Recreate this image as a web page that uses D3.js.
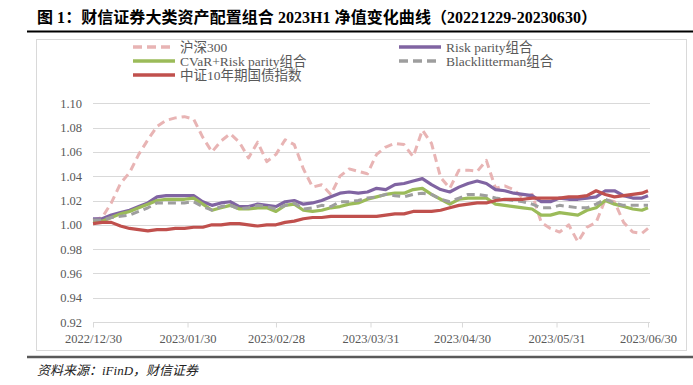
<!DOCTYPE html>
<html><head><meta charset="utf-8">
<script src="https://cdn.jsdelivr.net/npm/d3@7"></script>
<style>
html,body{margin:0;padding:0;background:#fff;}
svg{display:block;}
</style></head>
<body>
<svg id="c" width="693" height="385"></svg>
<script>
const dates = ["2022-12-30","2023-01-02","2023-01-05","2023-01-08","2023-01-11","2023-01-14","2023-01-17","2023-01-20","2023-01-23","2023-01-26","2023-01-29","2023-02-01","2023-02-04","2023-02-07","2023-02-10","2023-02-13","2023-02-16","2023-02-19","2023-02-22","2023-02-25","2023-02-28","2023-03-03","2023-03-06","2023-03-09","2023-03-12","2023-03-15","2023-03-18","2023-03-21","2023-03-24","2023-03-27","2023-03-30","2023-04-02","2023-04-05","2023-04-08","2023-04-11","2023-04-14","2023-04-17","2023-04-20","2023-04-23","2023-04-26","2023-04-29","2023-05-02","2023-05-05","2023-05-08","2023-05-11","2023-05-14","2023-05-17","2023-05-20","2023-05-23","2023-05-26","2023-05-29","2023-06-01","2023-06-04","2023-06-07","2023-06-10","2023-06-13","2023-06-16","2023-06-19","2023-06-22","2023-06-25","2023-06-28","2023-06-30"];

const hs300 = [1.004,1.006,1.018,1.034,1.043,1.058,1.070,1.081,1.086,1.088,1.089,1.087,1.072,1.060,1.069,1.075,1.068,1.055,1.068,1.052,1.058,1.070,1.066,1.046,1.031,1.033,1.025,1.040,1.046,1.044,1.042,1.058,1.064,1.067,1.066,1.056,1.078,1.067,1.039,1.030,1.045,1.045,1.044,1.053,1.030,1.032,1.029,1.022,1.025,1.002,0.997,0.994,1.000,0.986,0.998,1.002,1.021,1.019,1.002,0.994,0.993,0.997];

const riskParity = [1.005,1.005,1.008,1.010,1.012,1.015,1.018,1.023,1.024,1.024,1.024,1.024,1.019,1.016,1.018,1.019,1.015,1.015,1.017,1.016,1.015,1.019,1.020,1.017,1.018,1.020,1.023,1.026,1.027,1.026,1.027,1.030,1.029,1.033,1.034,1.036,1.038,1.033,1.029,1.027,1.031,1.034,1.036,1.034,1.029,1.028,1.026,1.025,1.024,1.019,1.019,1.022,1.021,1.021,1.022,1.023,1.028,1.028,1.024,1.022,1.022,1.024];

const cvarRiskParity = [1.003,1.003,1.006,1.009,1.011,1.014,1.017,1.020,1.021,1.021,1.021,1.022,1.017,1.012,1.014,1.016,1.013,1.013,1.014,1.014,1.011,1.016,1.017,1.012,1.011,1.012,1.014,1.015,1.017,1.018,1.021,1.023,1.025,1.026,1.026,1.029,1.030,1.025,1.021,1.017,1.021,1.022,1.022,1.022,1.017,1.016,1.015,1.014,1.013,1.008,1.008,1.010,1.009,1.008,1.012,1.014,1.020,1.017,1.015,1.013,1.012,1.014];

const blackLitterman = [1.004,1.004,1.006,1.007,1.008,1.011,1.014,1.018,1.018,1.018,1.018,1.019,1.015,1.012,1.015,1.016,1.013,1.014,1.016,1.015,1.013,1.016,1.018,1.013,1.014,1.016,1.015,1.019,1.019,1.020,1.022,1.023,1.025,1.024,1.023,1.025,1.026,1.025,1.021,1.019,1.022,1.025,1.025,1.024,1.022,1.021,1.020,1.019,1.017,1.014,1.014,1.016,1.015,1.014,1.014,1.017,1.021,1.018,1.016,1.016,1.016,1.016];

const bond10y = [1.001,1.002,1.002,0.999,0.997,0.996,0.995,0.996,0.996,0.997,0.997,0.998,0.998,1.000,1.000,1.001,1.001,1.000,0.999,1.000,1.000,1.002,1.003,1.005,1.006,1.006,1.007,1.007,1.007,1.007,1.007,1.007,1.008,1.009,1.009,1.011,1.011,1.011,1.012,1.014,1.016,1.017,1.018,1.018,1.020,1.021,1.021,1.021,1.022,1.022,1.022,1.022,1.023,1.023,1.024,1.028,1.025,1.023,1.024,1.025,1.026,1.028];

const seriesNames = ["沪深300","Risk parity组合","CVaR+Risk parity组合","Blacklitterman组合","中证10年期国债指数"];
const yTicks = [0.92,0.94,0.96,0.98,1.00,1.02,1.04,1.06,1.08,1.10];
const xTickLabels = ["2022/12/30","2023/01/30","2023/02/28","2023/03/31","2023/04/30","2023/05/31","2023/06/30"];
const titleText = "图 1：财信证券大类资产配置组合 2023H1 净值变化曲线（20221229-20230630）";
const sourceText = "资料来源：iFinD，财信证券";

const svg = d3.select("#c");
const parse = d3.timeParse("%Y-%m-%d");
const parseTick = d3.timeParse("%Y/%m/%d");
const dd = dates.map(parse);

const styles = [
  {color:"#E8B4B4", width:3, dash:"8,5"},
  {color:"#8064A2", width:3.2, dash:null},
  {color:"#9BBB59", width:3.2, dash:null},
  {color:"#9E9E9E", width:3, dash:"8,5"},
  {color:"#C0504D", width:3.2, dash:null}
];
const values = [hs300, riskParity, cvarRiskParity, blackLitterman, bond10y];

// title
svg.append("text").attr("x",37).attr("y",23)
  .attr("font-family","'Liberation Serif','Noto Sans CJK SC',serif")
  .attr("font-weight","bold").attr("font-size",16).attr("fill","#000")
  .attr("textLength",560).attr("lengthAdjust","spacing")
  .text(titleText);
svg.append("line").attr("x1",27).attr("x2",693).attr("y1",31.5).attr("y2",31.5)
  .attr("stroke","#000").attr("stroke-width",2);

// chart frame
svg.append("rect").attr("x",36.5).attr("y",39.5).attr("width",650).attr("height",311)
  .attr("fill","#fff").attr("stroke","#D9D9D9").attr("stroke-width",1);

const x = d3.scaleTime().domain([parseTick("2022/12/30"), parseTick("2023/06/30")]).range([93,648]);
const y = d3.scaleLinear().domain([0.92,1.10]).range([322,103.3]);

// gridlines
svg.append("g").selectAll("line").data(yTicks.slice(1)).join("line")
  .attr("x1",93).attr("x2",650)
  .attr("y1",d=>Math.round(y(d))+0.5).attr("y2",d=>Math.round(y(d))+0.5)
  .attr("stroke","#D9D9D9").attr("stroke-width",1);

// y axis labels
const yAxis = d3.axisLeft(y).tickValues(yTicks).tickFormat(d3.format(".2f")).tickSize(0).tickPadding(11);
const gy = svg.append("g").attr("transform","translate(93,0)").call(yAxis);
gy.select(".domain").remove();
gy.selectAll("text").attr("font-family","'Liberation Serif',serif").attr("font-size",12.5).attr("fill","#595959");

// x axis
const xAxis = d3.axisBottom(x).tickValues(xTickLabels.map(parseTick))
  .tickFormat((d,i)=>xTickLabels[i]).tickSize(5).tickPadding(7);
const gx = svg.append("g").attr("transform","translate(0,322.5)").call(xAxis);
gx.select(".domain").attr("d","M93,0H650").attr("stroke","#D9D9D9");
gx.selectAll(".tick line").attr("stroke","#D9D9D9");
gx.selectAll("text").attr("font-family","'Liberation Serif',serif").attr("font-size",12.5).attr("fill","#595959");

// lines
const line = d3.line().x((d,i)=>x(dd[i])).y(d=>y(d));
values.forEach((v,k)=>{
  const p = svg.append("path").datum(v).attr("d",line)
    .attr("fill","none").attr("stroke",styles[k].color).attr("stroke-width",styles[k].width)
    .attr("stroke-linejoin","round");
  if(styles[k].dash) p.attr("stroke-dasharray",styles[k].dash);
});

// legend
const legPos = [[133,47],[399,47],[133,61],[399,61],[133,75]];
seriesNames.forEach((n,k)=>{
  const [lx,ly] = legPos[k];
  const l = svg.append("line").attr("x1",lx).attr("x2",lx+42).attr("y1",ly).attr("y2",ly)
    .attr("stroke",styles[k].color).attr("stroke-width",styles[k].width+0.3);
  if(styles[k].dash) l.attr("stroke-dasharray","9,5");
  svg.append("text").attr("x",lx+47).attr("y",ly+4.5)
    .attr("font-family","'Liberation Serif','Noto Sans CJK SC',serif")
    .attr("font-size",13.5).attr("fill","#595959").text(n);
});

// footer
svg.append("line").attr("x1",27).attr("x2",693).attr("y1",357).attr("y2",357)
  .attr("stroke","#595959").attr("stroke-width",2.5);
svg.append("text").attr("x",37).attr("y",375)
  .attr("font-family","'Liberation Serif','Noto Sans CJK SC',serif")
  .attr("font-style","italic").attr("font-size",13).attr("fill","#222")
  .text(sourceText);
</script>
</body></html>
